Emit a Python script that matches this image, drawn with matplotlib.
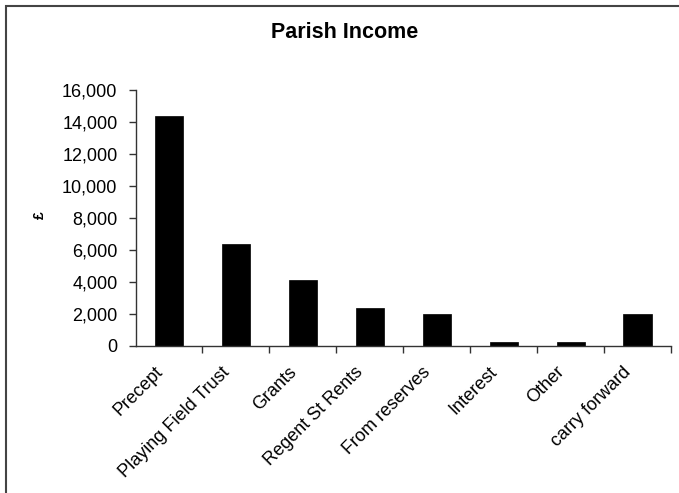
import matplotlib

matplotlib.use("Agg")
import matplotlib.pyplot as plt  # noqa: E402
import matplotlib.transforms as mtransforms  # noqa: E402
from matplotlib.patches import Rectangle  # noqa: E402
from matplotlib.ticker import FuncFormatter, FixedLocator  # noqa: E402

# values
categories = [
    "Precept", "Playing Field Trust", "Grants", "Regent St Rents",
    "From reserves", "Interest", "Other", "carry forward",
]
income = [14400, 6400, 4100, 2400, 2000, 220, 220, 2000]
y_ticks = [0, 2000, 4000, 6000, 8000, 10000, 12000, 14000, 16000]

plt.rcParams["font.family"] = ["Liberation Sans", "DejaVu Sans"]

W, H = 679, 493
fig = plt.figure(figsize=(W / 100, H / 100), dpi=100)
ax = fig.add_axes([135.5 / W, 1 - 346 / H, (671 - 135.5) / W, (346 - 90) / H])

xs = range(len(categories))
ax.bar(xs, income, width=0.42, color="black", edgecolor="black", linewidth=0.5)

ax.set_xlim(-0.5, len(categories) - 0.5)
ax.set_ylim(0, 16000)
ax.set_yticks(y_ticks)
ax.yaxis.set_major_formatter(FuncFormatter(lambda v, _: f"{v:,.0f}"))

# category labels sit at bar centres, tick marks sit between categories
ax.set_xticks(list(xs))
ax.set_xticklabels(categories, rotation=45, ha="right", va="center",
                   rotation_mode="anchor", fontsize=13)
ax.tick_params(axis="x", which="major", length=0, pad=14)
shift = mtransforms.ScaledTranslation(-9 / 100, -4 / 100, fig.dpi_scale_trans)
for lab in ax.get_xticklabels():
    lab.set_transform(lab.get_transform() + shift)
ax.xaxis.set_minor_locator(FixedLocator([i + 0.5 for i in xs]))
ax.tick_params(axis="x", which="minor", length=5, width=1, color="#333333",
               direction="out")
ax.tick_params(axis="y", length=5, width=1, color="#333333", pad=8,
               labelsize=13)

for side in ("top", "right"):
    ax.spines[side].set_visible(False)
for side in ("left", "bottom"):
    ax.spines[side].set_color("#333333")
    ax.spines[side].set_linewidth(1)

fig.text(0.507, 1 - 32 / H, "Parish Income", ha="center", va="center",
         fontsize=15.5, fontweight="bold")
fig.text(40 / W, 1 - 215 / H, "£", ha="center", va="center", rotation=90,
         fontsize=10, fontweight="bold")

# chart-area border, only the top and left edges fall inside the picture
fig.patches.append(Rectangle((6 / W, -0.5), 2.0, 1 - 6 / H + 0.5,
                             transform=fig.transFigure, fill=False,
                             edgecolor="#444444", linewidth=1.5))

fig.savefig("out.png", dpi=100)
plt.close(fig)
